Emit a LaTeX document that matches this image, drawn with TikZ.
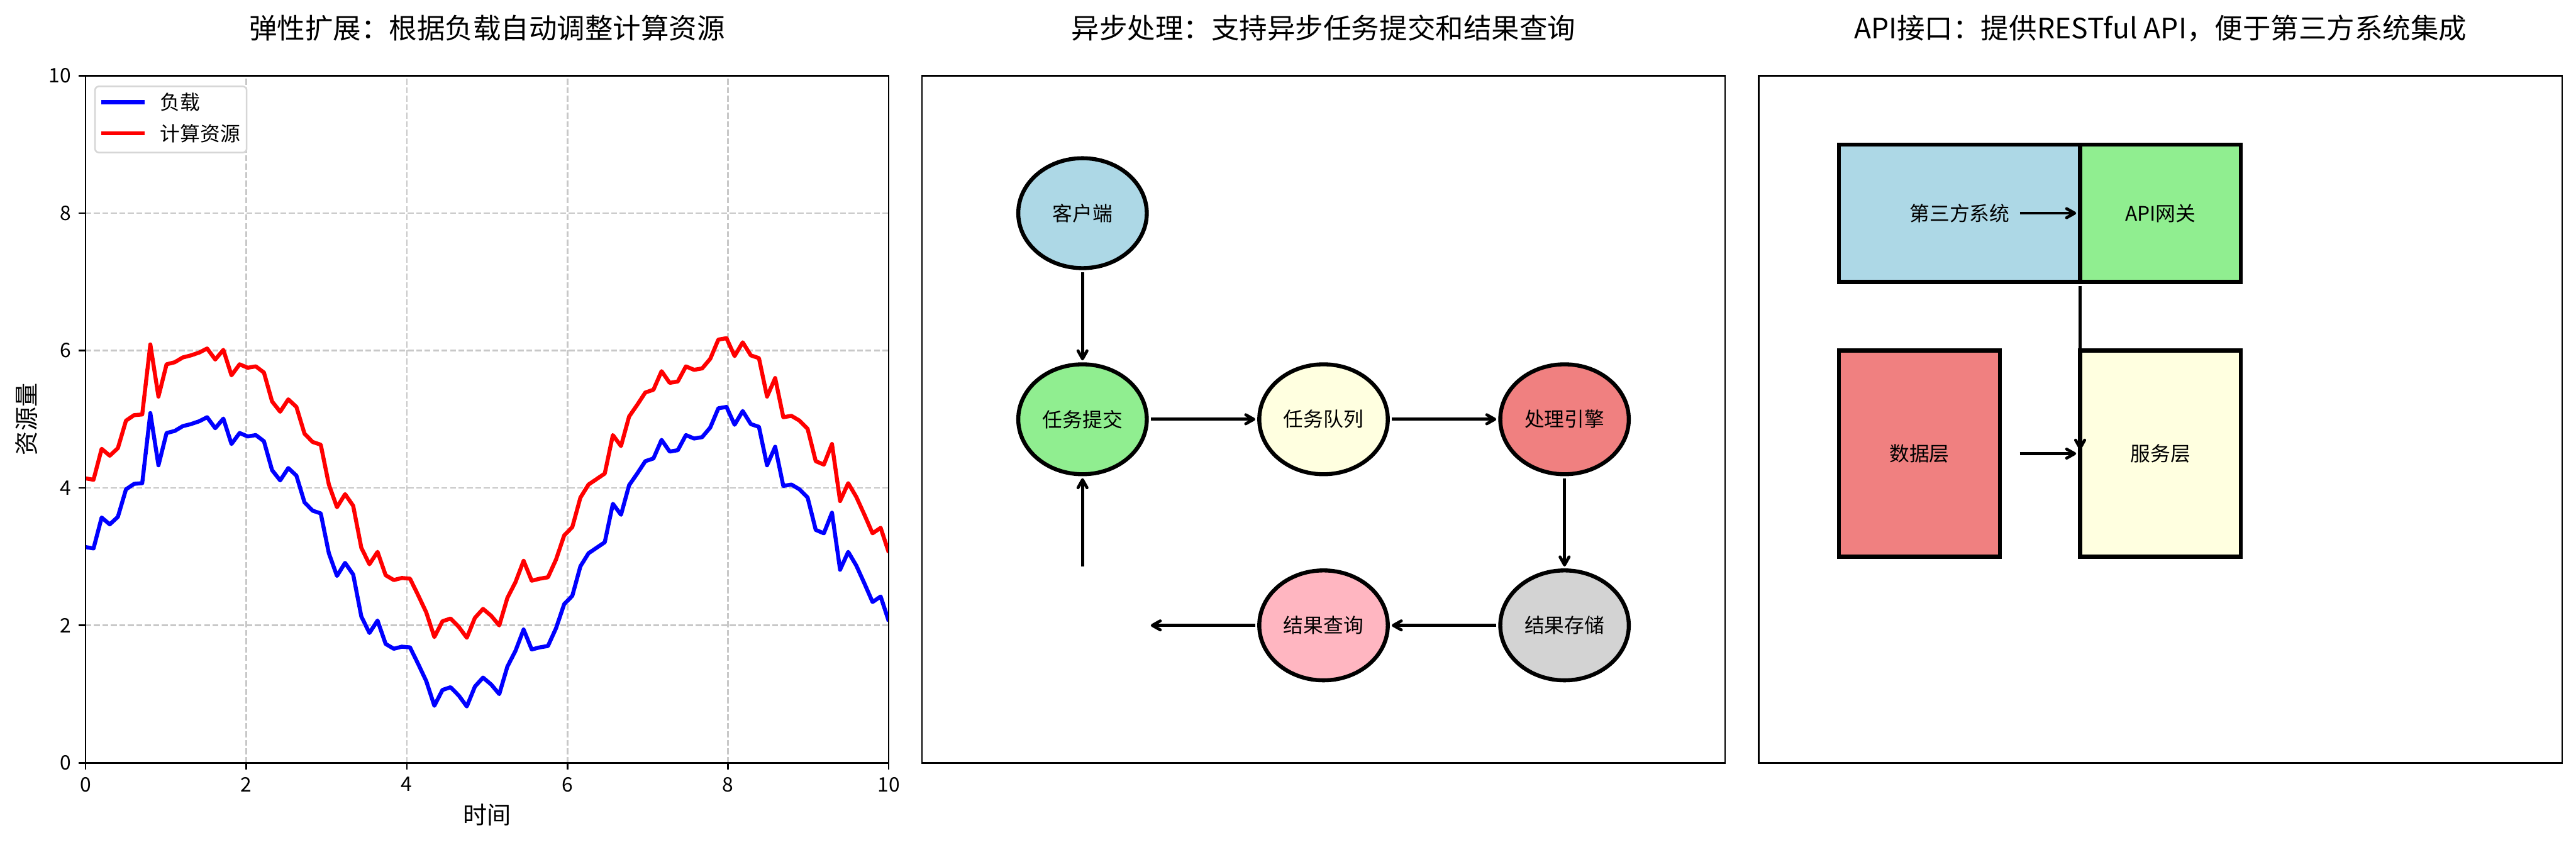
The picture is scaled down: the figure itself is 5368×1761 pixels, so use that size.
\documentclass[tikz,border=0pt]{standalone}
\usepackage{fontspec}
\setmainfont{Noto Sans CJK SC}
\usetikzlibrary{arrows.meta,shapes.geometric}
\definecolor{gridc}{HTML}{C8C8C8}
\definecolor{legc}{HTML}{D6D6D6}
\definecolor{lblue}{HTML}{ADD8E6}
\definecolor{lgreen}{HTML}{90EE90}
\definecolor{lyellow}{HTML}{FFFFE0}
\definecolor{lcoral}{HTML}{F08080}
\definecolor{lpink}{HTML}{FFB6C1}
\definecolor{lgray}{HTML}{D3D3D3}
\def\loadarr{{3.14,3.12,3.57,3.47,3.58,3.98,4.06,4.07,5.09,4.33,4.80,4.83,4.90,4.93,4.97,5.03,4.87,5.01,4.64,4.80,4.75,4.77,4.68,4.26,4.11,4.29,4.18,3.79,3.67,3.63,3.05,2.72,2.91,2.74,2.13,1.89,2.07,1.73,1.66,1.69,1.68,1.44,1.19,0.83,1.06,1.10,0.98,0.82,1.11,1.24,1.14,1.00,1.40,1.63,1.94,1.65,1.68,1.70,1.96,2.31,2.43,2.86,3.05,3.13,3.21,3.77,3.61,4.04,4.21,4.39,4.43,4.70,4.53,4.55,4.77,4.72,4.74,4.88,5.16,5.18,4.92,5.12,4.93,4.89,4.33,4.60,4.03,4.05,3.98,3.86,3.39,3.34,3.64,2.81,3.07,2.87,2.61,2.34,2.42,2.06}}
\begin{document}
\begin{tikzpicture}[x=0.24bp,y=-0.24bp,
  titletext/.style={font=\fontsize{14bp}{16bp}\selectfont, anchor=base, inner sep=0},
  ticklab/.style={font=\fontsize{10bp}{12bp}\selectfont, inner sep=0},
  axlab/.style={font=\fontsize{12bp}{14bp}\selectfont, inner sep=0},
  gridline/.style={gridc, line width=0.8bp, dash pattern=on 2.96bp off 1.28bp},
  spine/.style={black, line width=0.8bp},
  curve/.style={line width=2bp, line join=round},
  circ/.style={ellipse, draw=black, line width=2bp, minimum width=64.28bp, minimum height=54.99bp, inner sep=0, outer sep=0, font=\fontsize{10bp}{12bp}\selectfont},
  boxnode/.style={rectangle, draw=black, line width=2bp, inner sep=0, outer sep=0, font=\fontsize{10bp}{12bp}\selectfont},
  arr/.style={-{Straight Barb[length=4bp,width=4.5bp,round]}, line width=1.5bp, shorten <=2bp, shorten >=2bp}
]
\useasboundingbox[fill=white] (0,0) rectangle (5368,1761);

% titles
\node[titletext] (t1) at (1015,81) {弹性扩展：根据负载自动调整计算资源};
\node[titletext] (t2) at (2758,81) {异步处理：支持异步任务提交和结果查询};
\node[titletext] (t3) at (4502,81) {API接口：提供RESTful API，便于第三方系统集成};

% ---------- panel 1 ----------
\begin{scope}[shift={(178,1590)}, x=40.176bp, y=34.368bp]
  \foreach \g in {2,4,6,8} {
    \draw[gridline] (\g,0) -- (\g,10);
    \draw[gridline] (0,\g) -- (10,\g);
  }
  \begin{scope}
    \clip (0,0) rectangle (10,10);
    \draw[curve, blue] plot[samples at={0,...,99}, variable=\i] ({\i*10/99},{\loadarr[\i]});
    \draw[curve, red] plot[samples at={0,...,99}, variable=\i] ({\i*10/99},{\loadarr[\i]+1});
  \end{scope}
  \draw[spine] (0,0) rectangle (10,10);
  \foreach \g in {0,2,4,6,8,10} {
    \draw[spine] (\g,0) -- ++(0,-3.5bp);
    \draw[spine] (0,\g) -- ++(-3.5bp,0);
    \node[ticklab, anchor=north, yshift=-7bp] (xt\g) at (\g,0) {\g};
    \node[ticklab, anchor=east, xshift=-7bp] (yt\g) at (0,\g) {\g};
  }
\end{scope}
\node[axlab] (xlab) at (1015,1699) {时间};
\node[axlab, rotate=90] (ylab) at (55,874) {资源量};

% legend
\draw[legc, line width=0.8bp, fill=white, rounded corners=2bp] (198,180) rectangle (514,318);
\coordinate (lb1) at (211,213); \coordinate (lb2) at (302,213);
\coordinate (lr1) at (211,278); \coordinate (lr2) at (302,278);
\draw[curve, blue] (lb1) -- (lb2);
\draw[curve, red] (lr1) -- (lr2);
\node[ticklab, anchor=west] (leg1) at (333,213) {负载};
\node[ticklab, anchor=west] (leg2) at (333,278) {计算资源};

% ---------- panel 2 ----------
\begin{scope}[shift={(1921,1590)}, x=40.176bp, y=34.368bp]
  \draw[spine] (0,0) rectangle (10,10);
  \node[circ, fill=lblue]   (kehu)    at (2,8) {客户端};
  \node[circ, fill=lgreen]  (tijiao)  at (2,5) {任务提交};
  \node[circ, fill=lyellow] (duilie)  at (5,5) {任务队列};
  \node[circ, fill=lcoral]  (yinqing) at (8,5) {处理引擎};
  \node[circ, fill=lgray]   (cunchu)  at (8,2) {结果存储};
  \node[circ, fill=lpink]   (chaxun)  at (5,2) {结果查询};
  \coordinate (upstart) at (2,2.8);
  \coordinate (leftend) at (2.8,2);
  \draw[arr] (kehu.south) -- (tijiao.north);
  \draw[arr] (tijiao.east) -- (duilie.west);
  \draw[arr] (duilie.east) -- (yinqing.west);
  \draw[arr] (yinqing.south) -- (cunchu.north);
  \draw[arr] (cunchu.west) -- (chaxun.east);
  \draw[arr] (chaxun.west) -- (leftend);
  \draw[arr] (upstart) -- (tijiao.south);
\end{scope}

% ---------- panel 3 ----------
\begin{scope}[shift={(3665,1590)}, x=40.176bp, y=34.368bp]
  \draw[spine] (0,0) rectangle (10,10);
  \node[boxnode, fill=lblue, minimum width=120.53bp, minimum height=68.74bp] (third) at (2.5,8) {第三方系统};
  \node[boxnode, fill=lgreen, minimum width=80.35bp, minimum height=68.74bp] (gw) at (5,8) {API网关};
  \node[boxnode, fill=lcoral, minimum width=80.35bp, minimum height=103.1bp] (data) at (2,4.5) {数据层};
  \node[boxnode, fill=lyellow, minimum width=80.35bp, minimum height=103.1bp] (svc) at (5,4.5) {服务层};
  \coordinate (a1) at (3.2,8);
  \coordinate (a2) at (3.2,4.5);
  \draw[arr] (a1) -- (gw.west);
  \draw[arr] (gw.south west) -- (svc.west);
  \draw[arr] (a2) -- (svc.west);
\end{scope}
\end{tikzpicture}
\end{document}
